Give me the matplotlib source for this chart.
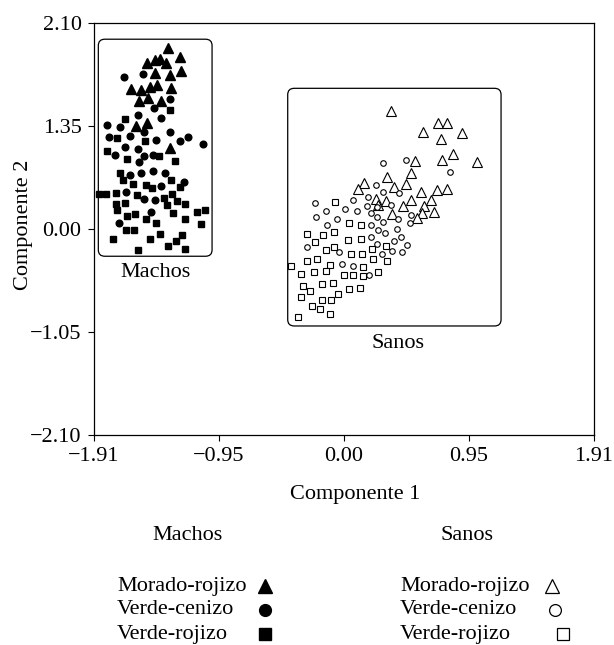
import matplotlib.pyplot as plt
from matplotlib.patches import FancyBboxPatch
from matplotlib.lines import Line2D

plt.rcParams['font.family'] = ['Liberation Serif', 'DejaVu Serif']

# Machos (filled markers)
m_tri_x = [-1.342, -1.253, -1.507, -1.446, -1.405, -1.362, -1.248, -1.332, -1.444, -1.627,
           -1.553, -1.482, -1.426, -1.324, -1.566, -1.497, -1.400, -1.591, -1.502, -1.332]
m_tri_y = [1.842, 1.750, 1.689, 1.716, 1.730, 1.689, 1.603, 1.569, 1.586, 1.423,
           1.409, 1.443, 1.467, 1.433, 1.303, 1.331, 1.296, 1.047, 1.081, 0.819]

m_cir_x = [-1.680, -1.533, -1.329, -1.451, -1.571, -1.400, -1.808, -1.713, -1.795, -1.635,
           -1.528, -1.332, -1.436, -1.253, -1.192, -1.077, -1.675, -1.752, -1.571, -1.528,
           -1.459, -1.566, -1.635, -1.548, -1.456, -1.370, -1.400, -1.222, -1.668, -1.528,
           -1.444, -1.477, -1.719]
m_cir_y = [1.545, 1.580, 1.320, 1.225, 1.163, 1.129, 1.058, 1.034, 0.931, 0.945,
           0.989, 0.986, 0.904, 0.894, 0.931, 0.863, 0.836, 0.750, 0.815, 0.740,
           0.754, 0.682, 0.546, 0.570, 0.590, 0.570, 0.433, 0.478, 0.375, 0.307,
           0.290, 0.170, 0.058]

m_sq_x = [-1.670, -1.332, -1.731, -1.520, -1.813, -1.413, -1.660, -1.291, -1.711, -1.691,
          -1.612, -1.515, -1.469, -1.324, -1.253, -1.871, -1.820, -1.742, -1.579, -1.375,
          -1.316, -1.742, -1.670, -1.278, -1.349, -1.214, -1.731, -1.655, -1.596, -1.515,
          -1.306, -1.217, -1.125, -1.064, -1.439, -1.095, -1.762, -1.665, -1.604, -1.482,
          -1.408, -1.344, -1.286, -1.240, -1.217, -1.571]
m_sq_y = [1.116, 1.208, 0.921, 0.897, 0.795, 0.740, 0.713, 0.689, 0.570, 0.495,
          0.460, 0.450, 0.420, 0.495, 0.426, 0.358, 0.358, 0.365, 0.348, 0.317,
          0.358, 0.256, 0.263, 0.283, 0.239, 0.256, 0.188, 0.126, 0.147, 0.102,
          0.160, 0.102, 0.170, 0.188, 0.058, 0.051, -0.103, -0.017, -0.010, -0.109,
          -0.058, -0.171, -0.126, -0.068, -0.205, -0.212]

# Sanos (open markers)
s_tri_x = [0.356, 0.720, 0.789, 0.603, 0.904, 0.738, 0.832, 0.748, 0.542, 1.013,
           0.509, 0.326, 0.471, 0.382, 0.153, 0.107, 0.585, 0.713, 0.789, 0.242,
           0.318, 0.509, 0.662, 0.262, 0.453, 0.611, 0.364, 0.598, 0.687, 0.560]
s_tri_y = [1.194, 1.075, 1.081, 0.989, 0.972, 0.914, 0.761, 0.699, 0.692, 0.682,
           0.563, 0.522, 0.454, 0.427, 0.461, 0.409, 0.375, 0.399, 0.409, 0.307,
           0.283, 0.290, 0.290, 0.239, 0.229, 0.229, 0.153, 0.160, 0.170, 0.112]

s_cir_x = [0.300, 0.471, 0.809, 0.242, 0.071, 0.183, 0.300, 0.420, -0.224, -0.140,
           0.005, 0.102, 0.173, 0.254, -0.217, -0.056, -0.128, 0.203, 0.356, 0.209,
           0.295, 0.254, 0.415, 0.509, 0.504, 0.407, 0.209, 0.259, 0.310, 0.438,
           0.478, 0.382, 0.254, 0.369, 0.445, 0.293, -0.285, -0.038, -0.018, 0.071,
           0.191]
s_cir_y = [0.672, 0.699, 0.580, 0.450, 0.297, 0.324, 0.375, 0.365, 0.266, 0.181,
           0.198, 0.181, 0.229, 0.222, 0.119, 0.095, 0.041, 0.160, 0.239, 0.041,
           0.068, 0.119, 0.102, 0.143, 0.061, 0.000, -0.079, -0.014, -0.045, -0.086,
           -0.161, -0.120, -0.155, -0.222, -0.239, -0.257, -0.188, -0.239, -0.359, -0.376,
           -0.472]

s_sq_x = [-0.072, 0.035, 0.127, -0.285, -0.222, -0.158, -0.077, 0.030, 0.127, -0.077,
          -0.135, 0.056, 0.140, 0.216, 0.318, -0.204, -0.280, -0.107, -0.403, -0.326,
          -0.229, -0.140, 0.000, 0.071, 0.147, 0.147, 0.224, 0.326, 0.262, -0.313,
          -0.260, -0.166, -0.084, 0.038, 0.119, -0.326, -0.171, -0.097, -0.046, -0.242,
          -0.186, -0.110, -0.352]
s_sq_y = [0.273, 0.058, 0.041, -0.052, -0.130, -0.059, -0.035, -0.110, -0.107, -0.181,
          -0.216, -0.257, -0.257, -0.205, -0.171, -0.307, -0.331, -0.366, -0.376, -0.461,
          -0.444, -0.433, -0.472, -0.468, -0.485, -0.386, -0.307, -0.325, -0.444, -0.580,
          -0.632, -0.564, -0.557, -0.615, -0.608, -0.700, -0.727, -0.727, -0.666, -0.785,
          -0.819, -0.864, -0.895]

x_ticks = [-1.91, -0.955, 0.0, 0.955, 1.91]
x_labels = ['\u22121.91', '\u22120.95', '0.00', '0.95', '1.91']
y_ticks = [-2.1, -1.05, 0.0, 1.05, 2.1]
y_labels = ['\u22122.10', '\u22121.05', '0.00', '1.35', '2.10']

groups = ['Morado-rojizo', 'Verde-cenizo', 'Verde-rojizo']

FS = 16

fig = plt.figure(figsize=(6.14, 6.45), dpi=100)
ax = fig.add_axes([0.1531, 0.3256, 0.8143, 0.6395])

# filled markers
ax.plot(m_tri_x, m_tri_y, '^', color='black', ms=7, ls='none')
ax.plot(m_cir_x, m_cir_y, 'o', color='black', ms=4.8, ls='none')
ax.plot(m_sq_x, m_sq_y, 's', color='black', ms=4.8, ls='none')
# open markers
ax.plot(s_tri_x, s_tri_y, '^', mfc='white', mec='black', mew=0.8, ms=6.8, ls='none')
ax.plot(s_cir_x, s_cir_y, 'o', mfc='white', mec='black', mew=0.8, ms=4.0, ls='none')
ax.plot(s_sq_x, s_sq_y, 's', mfc='white', mec='black', mew=0.8, ms=4.4, ls='none')

# group boxes
for x0, y0, x1, y1 in [(-1.877, -0.28, -1.008, 1.93), (-0.43, -0.99, 1.20, 1.43)]:
    box = FancyBboxPatch((x0, y0), x1 - x0, y1 - y0,
                         boxstyle='round,pad=0,rounding_size=0.05',
                         mutation_aspect=1.3, fc='none', ec='black', lw=0.9)
    ax.add_patch(box)
ax.text(-1.438, -0.45, 'Machos', ha='center', va='center', fontsize=FS)
ax.text(0.415, -1.17, 'Sanos', ha='center', va='center', fontsize=FS)

ax.set_xlim(-1.91, 1.91)
ax.set_ylim(-2.1, 2.1)
ax.set_xticks(x_ticks)
ax.set_xticklabels(x_labels, fontsize=FS)
ax.set_yticks(y_ticks)
ax.set_yticklabels(y_labels, fontsize=FS)
ax.tick_params(direction='out', length=4, width=0.8, pad=5)
for sp in ax.spines.values():
    sp.set_linewidth(0.9)

fig.text(24 / 614, 1 - 225 / 645, 'Componente 2', rotation=90,
         ha='center', va='center', fontsize=FS)
fig.text(355 / 614, 1 - 495 / 645, 'Componente 1', ha='center', va='center', fontsize=FS)

# legend below the plot
fig.text(187 / 614, 1 - 535 / 645, 'Machos', ha='center', va='center', fontsize=FS)
fig.text(467 / 614, 1 - 535 / 645, 'Sanos', ha='center', va='center', fontsize=FS)
rows_y = [586, 610, 634]
leg_mk = ['^', 'o', 's']
leg_ms = [10.5, 8.5, 8.5]
right_x = [552, 555, 563]
for name, py, mk, ms, rx in zip(groups, rows_y, leg_mk, leg_ms, right_x):
    yf = 1 - py / 645
    fig.text(117 / 614, yf, name, ha='left', va='center', fontsize=FS)
    fig.text(400 / 614, yf, name, ha='left', va='center', fontsize=FS)
    fig.add_artist(Line2D([265 / 614], [yf], transform=fig.transFigure, marker=mk,
                          color='black', ms=ms, ls='none'))
    fig.add_artist(Line2D([rx / 614], [yf], transform=fig.transFigure, marker=mk,
                          mfc='white', mec='black', mew=0.9, ms=ms, ls='none'))

fig.savefig('out.png', dpi=100)
